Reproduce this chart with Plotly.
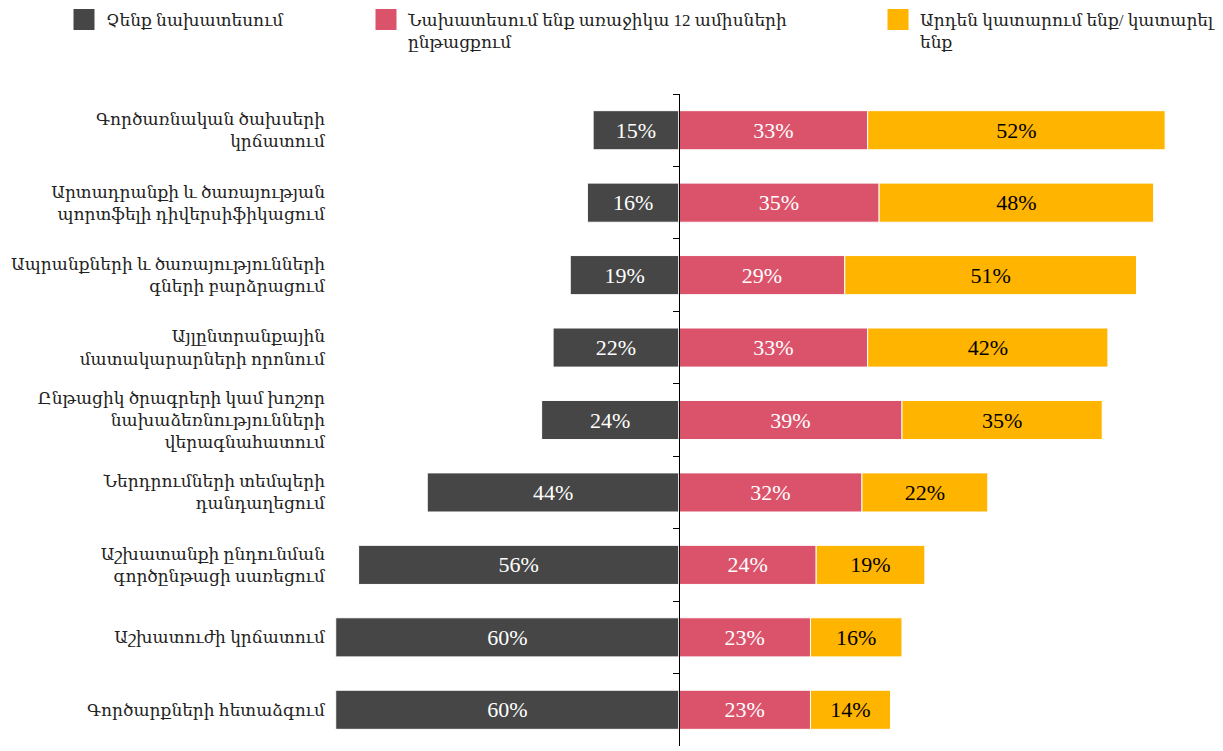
import plotly.graph_objects as go

categories = [
    "Գործառնական ծախսերի<br>կրճատում",
    "Արտադրանքի և ծառայության<br>պորտֆելի դիվերսիֆիկացում",
    "Ապրանքների և ծառայությունների<br>գների բարձրացում",
    "Այլընտրանքային<br>մատակարարների որոնում",
    "Ընթացիկ ծրագրերի կամ խոշոր<br>նախաձեռնությունների<br>վերագնահատում",
    "Ներդրումների տեմպերի<br>դանդաղեցում",
    "Աշխատանքի ընդունման<br>գործընթացի սառեցում",
    "Աշխատուժի կրճատում",
    "Գործարքների հետաձգում",
]
no_plan = [15, 16, 19, 22, 24, 44, 56, 60, 60]
plan_12m = [33, 35, 29, 33, 39, 32, 24, 23, 23]
already = [52, 48, 51, 42, 35, 22, 19, 16, 14]

series_names = [
    "Չենք նախատեսում",
    "Նախատեսում ենք առաջիկա 12 ամիսների<br>ընթացքում",
    "Արդեն կատարում ենք/ կատարել<br>ենք",
]
colors = ["#464646", "#db536b", "#ffb400"]
text_colors = ["white", "white", "black"]

FONT = "Liberation Serif, DejaVu Serif, serif"
# page body keeps its 8px margin, so the figure is 8px smaller than the window
W, H = 1215, 743
L, R, T, B = 322, 23, 86, 5
PW, PH = W - L - R, H - T - B
xmin, xmax = -61.0, 91.1
axis_pos = (0 - xmin) / (xmax - xmin)

fig = go.Figure()

values = [[-v for v in no_plan], plan_12m, already]
labels = [no_plan, plan_12m, already]
for i in range(3):
    fig.add_trace(go.Bar(
        y=categories, x=values[i], orientation="h",
        marker=dict(color=colors[i], line=dict(color="white", width=1)),
        text=[f"{v}%" for v in labels[i]],
        textposition="inside", insidetextanchor="middle", textangle=0,
        textfont=dict(family=FONT, size=22, color=text_colors[i]),
        width=0.54, showlegend=False, hoverinfo="skip",
    ))

# legend entries, one legend box each so they can sit where the reference has them
for i, lg in enumerate(["legend", "legend2", "legend3"]):
    fig.add_trace(go.Scatter(
        x=[None], y=[None], mode="markers", name=series_names[i],
        marker=dict(symbol="square", size=16, color=colors[i],
                    line=dict(color=colors[i], width=5)),
        legend=lg,
    ))

# invisible trace to give the centre axis its categories
fig.add_trace(go.Scatter(
    x=[0] * len(categories), y=categories, yaxis="y2", mode="markers",
    marker=dict(opacity=0), showlegend=False, hoverinfo="skip",
))


def legend_box(px, py):
    # px, py in figure pixels from the top-left corner
    return dict(
        x=(px - L) / PW, y=1 + (T - py) / PH,
        xanchor="left", yanchor="top", orientation="h", valign="top",
        itemsizing="trace", itemwidth=34, bgcolor="rgba(0,0,0,0)",
        font=dict(family=FONT, size=17, color="#222"),
    )


fig.update_layout(
    width=W, height=H,
    margin=dict(l=L, r=R, t=T, b=B, autoexpand=False),
    paper_bgcolor="white", plot_bgcolor="white",
    barmode="relative",
    font=dict(family=FONT, size=17, color="#222"),
    xaxis=dict(range=[xmin, xmax], visible=False, fixedrange=True),
    yaxis=dict(
        type="category", range=[len(categories) - 0.5, -0.5],
        showline=False, ticks="", showgrid=False, zeroline=False,
        tickfont=dict(family=FONT, size=17, color="#222"),
        ticklabelstandoff=4,
    ),
    yaxis2=dict(
        type="category", overlaying="y", anchor="free", side="left",
        position=axis_pos, range=[len(categories) - 0.5, -0.5],
        showline=True, linecolor="black", linewidth=1.3,
        ticks="outside", ticklen=6, tickwidth=1.3, tickcolor="black",
        tickson="boundaries", showticklabels=False, showgrid=False,
    ),
    legend=legend_box(54, -6),
    legend2=legend_box(356, -6),
    legend3=legend_box(868, -6),
)

fig.write_html("out.html")
